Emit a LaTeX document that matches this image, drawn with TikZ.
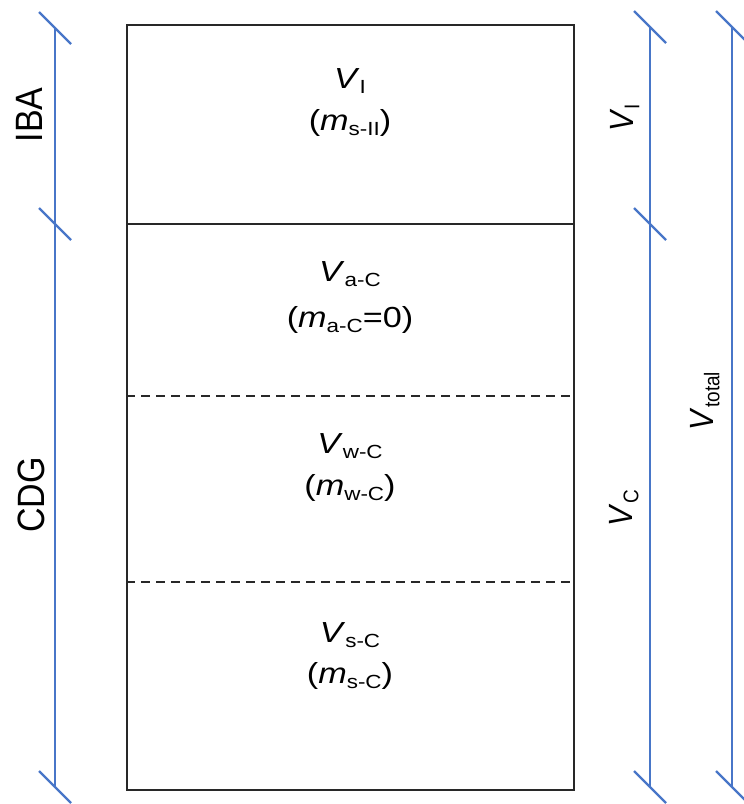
\documentclass[tikz,border=0pt]{standalone}
\usepackage{fontspec}
\setmainfont{Liberation Sans}
\usepackage{graphicx}
\definecolor{dimblue}{RGB}{72,118,200}
\definecolor{boxline}{RGB}{40,40,40}
% text is set slightly wide; rotated labels are widened across their height
\newcommand\wide[1]{\scalebox{1.18}[1]{#1}}
\newcommand\vwide[1]{\scalebox{1}[1.12]{#1}}
\newcommand\sbs[1]{\raisebox{-5pt}{\fontsize{19}{19}\selectfont #1}}
\tikzset{
  boxtxt/.style={anchor=base, inner sep=0pt, font=\fontsize{29}{31}\selectfont},
  sidetxt/.style={rotate=90, inner sep=0pt, font=\fontsize{34}{36}\selectfont},
  dimtxt/.style={rotate=90, inner sep=0pt, font=\fontsize{30}{32}\selectfont},
  dimline/.style={draw=dimblue, line width=2.2pt},
  divider/.style={draw=boxline, line width=1.9pt},
  divdash/.style={divider, line width=2.4pt, dash pattern=on 9pt off 6pt},
}
\newcommand\tick[1]{\draw[dimline] ([shift={(-16,-16)}]#1) -- ([shift={(16,16)}]#1);}
\begin{document}
\begin{tikzpicture}[x=1pt,y=-1pt]
\useasboundingbox (0,0) rectangle (744,804);

% the column of layers
\node[draw=boxline, line width=1.9pt, minimum width=447pt, minimum height=765pt,
      anchor=north west, inner sep=0pt] (box) at (126,24) {};
\coordinate (d1) at (126,224);
\coordinate (d2) at (126,396);
\coordinate (d3) at (126,582);
\draw[divider] (d1) -- (d1 -| box.east);
\draw[divdash] (d2) -- (d2 -| box.east);
\draw[divdash] (d3) -- (d3 -| box.east);

% layer labels
\node[boxtxt] (vi)  at (350,88)  {\wide{\textit{V}\sbs{I}}};
\node[boxtxt] (mi)  at (350,130) {\wide{(\textit{m}\sbs{s-II})}};
\node[boxtxt] (vac) at (350,281) {\wide{\textit{V}\sbs{a-C}}};
\node[boxtxt] (mac) at (350,327) {\wide{(\textit{m}\sbs{a-C}=0)}};
\node[boxtxt] (vwc) at (350,453) {\wide{\textit{V}\sbs{w-C}}};
\node[boxtxt] (mwc) at (350,495) {\wide{(\textit{m}\sbs{w-C})}};
\node[boxtxt] (vsc) at (350,642) {\wide{\textit{V}\sbs{s-C}}};
\node[boxtxt] (msc) at (350,683) {\wide{(\textit{m}\sbs{s-C})}};

% left dimension line: IBA / CDG
\coordinate (la) at (55,28);
\coordinate (lb) at (55,224);
\coordinate (lc) at (55,787);
\draw[dimline] (la) -- (lc);
\tick{la}\tick{lb}\tick{lc}
\node[sidetxt] (iba) at (29,115) {\vwide{IBA}};
\node[sidetxt] (cdg) at (31,495) {\vwide{CDG}};

% right dimension line: V_I / V_C
\coordinate (ra) at (650,27);
\coordinate (rb) at (650,224);
\coordinate (rc) at (650,787);
\draw[dimline] (ra) -- (rc);
\tick{ra}\tick{rb}\tick{rc}
\node[dimtxt] (dvi) at (625,118) {\vwide{\textit{V}\sbs{I}}};
\node[dimtxt] (dvc) at (624,508) {\vwide{\textit{V}\sbs{C}}};

% total dimension line
\coordinate (ta) at (732,27);
\coordinate (tc) at (732,787);
\draw[dimline] (ta) -- (tc);
\tick{ta}\tick{tc}
\node[dimtxt] (dvt) at (705,401) {\vwide{\textit{V}\sbs{total}}};
\end{tikzpicture}
\end{document}
